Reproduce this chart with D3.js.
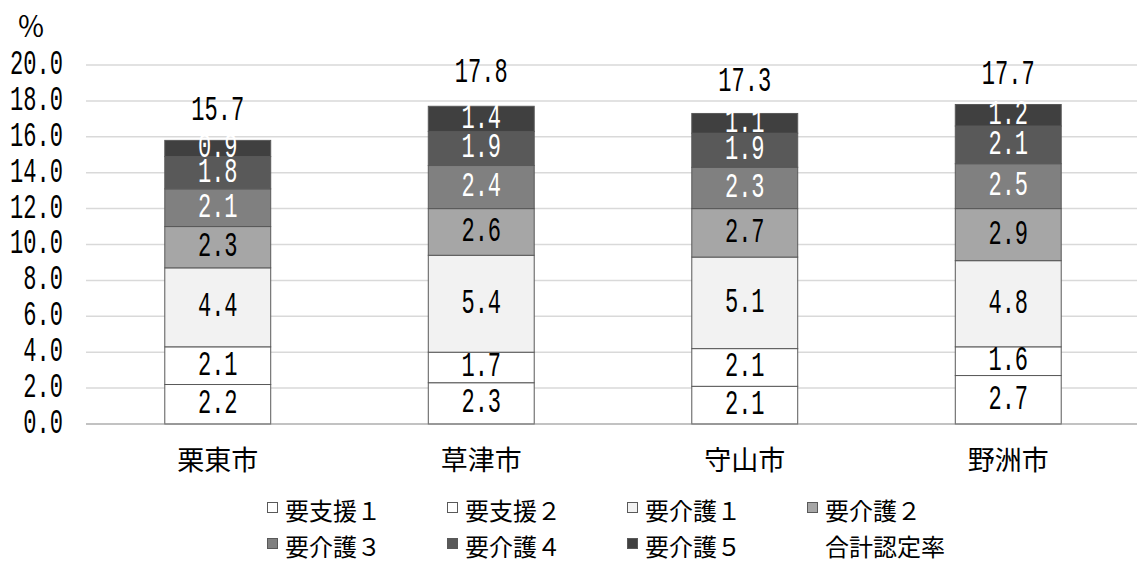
<!DOCTYPE html>
<html>
<head>
<meta charset="utf-8">
<script src="https://cdn.jsdelivr.net/npm/d3@7"></script>
<style>
  body { margin: 0; background: #fff; }
  svg { display: block; }
</style>
</head>
<body>
<script>
// DATA
const cities = ["栗東市", "草津市", "守山市", "野洲市"];
const seriesNames = ["要支援１", "要支援２", "要介護１", "要介護２", "要介護３", "要介護４", "要介護５"];
const shien1 = [2.2, 2.3, 2.1, 2.7];
const shien2 = [2.1, 1.7, 2.1, 1.6];
const kaigo1 = [4.4, 5.4, 5.1, 4.8];
const kaigo2 = [2.3, 2.6, 2.7, 2.9];
const kaigo3 = [2.1, 2.4, 2.3, 2.5];
const kaigo4 = [1.8, 1.9, 1.9, 2.1];
const kaigo5 = [0.9, 1.4, 1.1, 1.2];
const totals = [15.7, 17.8, 17.3, 17.7];
const totalName = "合計認定率";
const yTicks = [0, 2, 4, 6, 8, 10, 12, 14, 16, 18, 20];

const seriesValues = [shien1, shien2, kaigo1, kaigo2, kaigo3, kaigo4, kaigo5];
const colors = ["#ffffff", "#ffffff", "#f2f2f2", "#a6a6a6", "#808080", "#595959", "#404040"];
const labelColors = ["#000", "#000", "#000", "#000", "#fff", "#fff", "#fff"];

const width = 1137, height = 563;
const svg = d3.select("body").append("svg")
  .attr("width", width).attr("height", height);

// SCALES
const X = d3.scaleBand().domain(cities).range([86, 1140])
  .paddingInner(0.598).paddingOuter(0.299);
const Y = d3.scaleLinear().domain([0, 20]).range([424, 65]);

// stacked table
const table = cities.map((c, i) => {
  const row = { city: c };
  seriesNames.forEach((s, k) => row[s] = seriesValues[k][i]);
  return row;
});
const stacked = d3.stack().keys(seriesNames)(table);

// narrow number text (condensed look)
const numFont = "'Liberation Mono', 'DejaVu Sans Mono', monospace";
function numText(g, x, y, str, fill, anchor) {
  g.append("text")
    .attr("transform", `translate(${x},${y}) scale(0.63,1)`)
    .attr("text-anchor", anchor || "middle")
    .attr("dominant-baseline", "central")
    .style("font-family", numFont)
    .style("font-size", "35px")
    .attr("fill", fill)
    .text(str);
}

// GRID
svg.append("g").selectAll("line").data(yTicks.filter(d => d > 0)).enter()
  .append("line")
  .attr("x1", 86).attr("x2", width)
  .attr("y1", d => Y(d)).attr("y2", d => Y(d))
  .attr("stroke", "#d9d9d9").attr("stroke-width", 1.5);

// Y TICK LABELS
const yLab = svg.append("g");
yTicks.forEach(t => numText(yLab, 63, Y(t), t.toFixed(1), "#000", "end"));

// % unit
svg.append("text").attr("x", 31).attr("y", 25)
  .attr("text-anchor", "middle").attr("dominant-baseline", "central")
  .style("font-family", "'Noto Sans CJK JP', sans-serif").style("font-size", "28px")
  .text("％");

// BARS
const barG = svg.append("g");
stacked.forEach((layer, k) => {
  barG.selectAll(".s" + k).data(layer).enter().append("rect")
    .attr("x", d => X(d.data.city))
    .attr("width", X.bandwidth())
    .attr("y", d => Y(d[1]))
    .attr("height", d => Y(d[0]) - Y(d[1]))
    .attr("fill", colors[k])
    .attr("stroke", "#595959").attr("stroke-width", 1);
});

// AXIS BASELINE
svg.append("line").attr("x1", 86).attr("x2", width)
  .attr("y1", Y(0)).attr("y2", Y(0))
  .attr("stroke", "#868686").attr("stroke-width", 1.2);

// SEGMENT LABELS
const labG = svg.append("g");
stacked.forEach((layer, k) => {
  layer.forEach(d => {
    numText(labG, X(d.data.city) + X.bandwidth() / 2, Y((d[0] + d[1]) / 2),
      (d[1] - d[0]).toFixed(1), labelColors[k]);
  });
});

// TOTAL LABELS
cities.forEach((c, i) => {
  numText(labG, X(c) + X.bandwidth() / 2, Y(totals[i]) - 31, totals[i].toFixed(1), "#000");
});

// CATEGORY LABELS
svg.append("g").selectAll("text").data(cities).enter().append("text")
  .attr("x", d => X(d) + X.bandwidth() / 2).attr("y", 458)
  .attr("text-anchor", "middle").attr("dominant-baseline", "central")
  .style("font-family", "'Noto Sans CJK JP', sans-serif").style("font-size", "27px")
  .attr("fill", "#000")
  .text(d => d);

// LEGEND
const legendItems = seriesNames.map((s, k) => ({ name: s, color: colors[k] }))
  .concat([{ name: totalName, color: null }]);
const leg = svg.append("g");
legendItems.forEach((it, i) => {
  const col = i % 4, row = Math.floor(i / 4);
  const lx = 267 + col * 180, ly = 509 + row * 36;
  if (it.color) {
    leg.append("rect").attr("x", lx + 0.5).attr("y", ly - 6.5)
      .attr("width", 10).attr("height", 10)
      .attr("fill", it.color).attr("stroke", "#595959").attr("stroke-width", 1);
  }
  leg.append("text").attr("x", lx + 18).attr("y", ly)
    .attr("dominant-baseline", "central")
    .style("font-family", "'Noto Sans CJK JP', sans-serif").style("font-size", "24px")
    .attr("fill", "#000")
    .text(it.name);
});
</script>
</body>
</html>
